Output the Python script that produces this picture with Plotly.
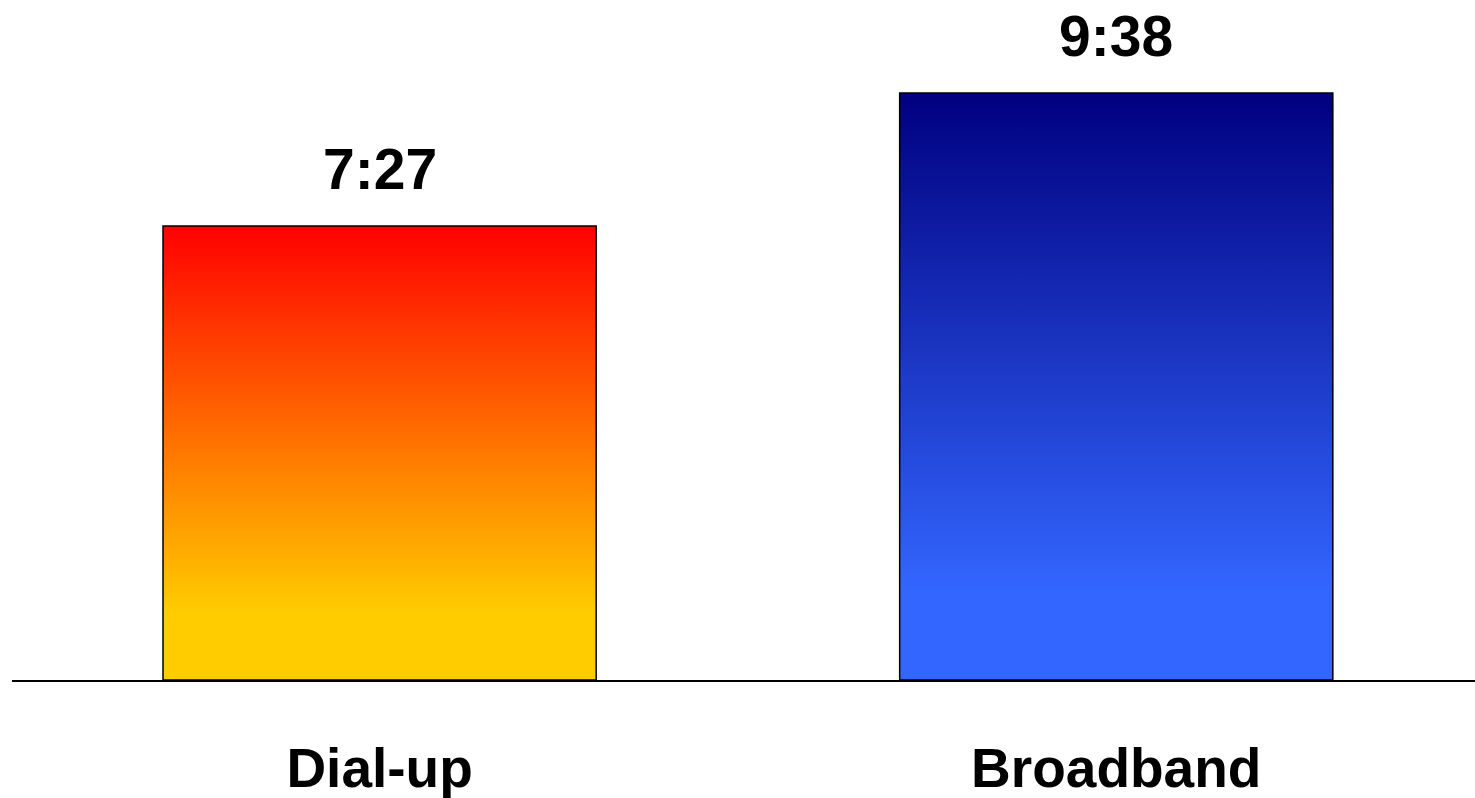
import plotly.graph_objects as go

categories = ["Dial-up", "Broadband"]
durations = ["7:27", "9:38"]  # minutes:seconds
minutes = [int(d.split(":")[0]) + int(d.split(":")[1]) / 60 for d in durations]
bottom_colors = ["#FFCC00", "#3366FF"]
top_colors = ["#FF0000", "#000080"]

BAR_W = 0.588
FONT = "Liberation Sans, Arial, sans-serif"

fig = go.Figure()
xs = list(range(len(categories)))
for i, (v, c0, c1) in enumerate(zip(minutes, bottom_colors, top_colors)):
    h = BAR_W / 2
    fig.add_trace(go.Scatter(
        x=[i - h, i + h, i + h, i - h, i - h],
        y=[0, 0, v, v, 0],
        mode="lines",
        fill="toself",
        line=dict(color="black", width=1.5),
        fillgradient=dict(type="vertical", start=0, stop=v,
                          colorscale=[[0, c0], [0.15, c0], [1, c1]]),
        hoverinfo="skip",
        showlegend=False,
    ))

for i, (v, t) in enumerate(zip(minutes, durations)):
    fig.add_annotation(x=i, y=v, text="<b>%s</b>" % t, showarrow=False,
                       yanchor="bottom", yshift=23,
                       font=dict(family=FONT, size=57, color="black"))

fig.update_layout(
    width=1475, height=798,
    margin=dict(l=12, r=0, t=0, b=118, autoexpand=False),
    plot_bgcolor="white", paper_bgcolor="white",
    showlegend=False,
    xaxis=dict(range=[-0.499, 1.487], tickvals=xs,
               ticktext=["<b>%s</b>" % c for c in categories],
               tickfont=dict(family=FONT, size=55, color="black"),
               showline=True, linecolor="black", linewidth=2,
               showgrid=False, zeroline=False, ticks="",
               automargin=False, ticklabelstandoff=39),
    yaxis=dict(range=[0, 11.16], visible=False, showgrid=False, zeroline=False,
               automargin=False),
)

fig.write_html("out.html", config={"displayModeBar": False},
               post_script="document.body.style.margin='0';document.body.style.overflow='hidden';")
